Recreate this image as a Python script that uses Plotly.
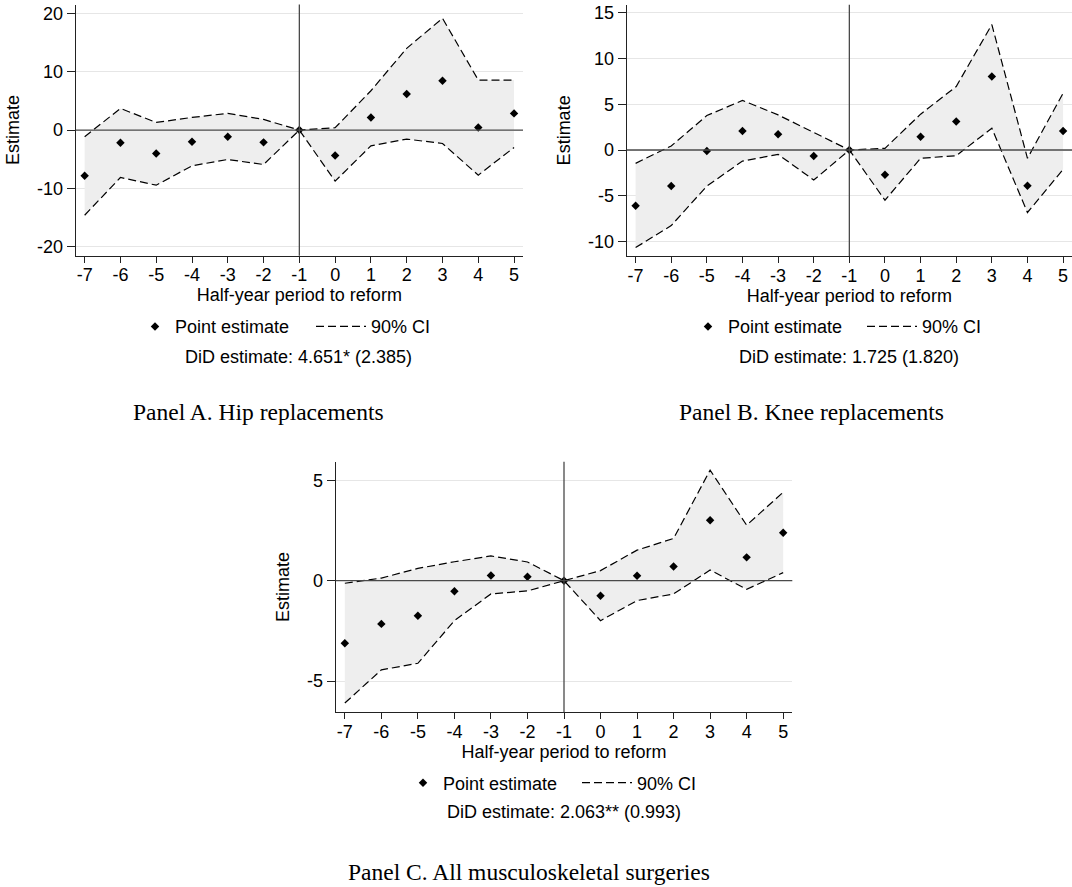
import plotly.graph_objects as go

# ---------------- data ----------------
periods = [-7, -6, -5, -4, -3, -2, -1, 0, 1, 2, 3, 4, 5]
period_labels = ["-7", "-6", "-5", "-4", "-3", "-2", "-1", "0", "1", "2", "3", "4", "5"]
reform_period = -1

hip_est = [-7.83, -2.17, -4.00, -2.00, -1.14, -2.10, 0.0, -4.34, 2.17, 6.17, 8.46, 0.46, 2.86]
hip_hi = [-1.14, 3.71, 1.31, 2.17, 2.86, 1.83, 0.0, 0.40, 6.74, 14.00, 19.14, 8.57, 8.57]
hip_lo = [-14.57, -8.11, -9.43, -6.11, -5.03, -5.89, 0.0, -8.74, -2.69, -1.54, -2.29, -7.71, -2.97]

knee_est = [-6.11, -3.95, -0.11, 2.09, 1.72, -0.66, 0.0, -2.71, 1.46, 3.11, 8.05, -3.92, 2.09]
knee_hi = [-1.46, 0.44, 3.77, 5.42, 3.84, 1.90, 0.0, 0.18, 3.92, 6.95, 13.72, -0.91, 6.22]
knee_lo = [-10.68, -8.27, -3.95, -1.21, -0.48, -3.29, 0.0, -5.49, -0.91, -0.62, 2.38, -6.84, -2.12]

msk_est = [-3.11, -2.15, -1.75, -0.53, 0.26, 0.20, 0.0, -0.75, 0.25, 0.70, 3.01, 1.16, 2.38]
msk_hi = [-0.13, 0.13, 0.61, 0.94, 1.23, 0.93, 0.0, 0.50, 1.52, 2.10, 5.50, 2.76, 4.40]
msk_lo = [-6.09, -4.44, -4.11, -1.99, -0.66, -0.51, 0.0, -1.99, -0.99, -0.66, 0.53, -0.43, 0.40]

hip_yticks = [-20, -10, 0, 10, 20]
hip_ylabels = ["-20", "-10", "0", "10", "20"]
knee_yticks = [-10, -5, 0, 5, 10, 15]
knee_ylabels = ["-10", "-5", "0", "5", "10", "15"]
msk_yticks = [-5, 0, 5]
msk_ylabels = ["-5", "0", "5"]

did_texts = ["DiD estimate: 4.651* (2.385)",
             "DiD estimate: 1.725 (1.820)",
             "DiD estimate: 2.063** (0.993)"]
captions = ["Panel A. Hip replacements",
            "Panel B. Knee replacements",
            "Panel C. All musculoskeletal surgeries"]

# ---------------- style ----------------
SANS = "Liberation Sans, Arial, sans-serif"
SERIF = "Liberation Serif, Times New Roman, serif"
FS = 18
FILL = "#eeeeee"
GRID = "#e6e6e6"
REFLINE = "#4a4a4a"
AXIS = "#222222"
DASH = "8px,4px"

W, H = 1072, 887

# panel geometry (pixels) -> paper
panels = [
    dict(est=hip_est, hi=hip_hi, lo=hip_lo, yt=hip_yticks, yl=hip_ylabels,
         yr=[-21.5, 21.5], px=(75.7, 523.0), py=(4.5, 255.7)),
    dict(est=knee_est, hi=knee_hi, lo=knee_lo, yt=knee_yticks, yl=knee_ylabels,
         yr=[-11.6, 15.9], px=(626.7, 1072.0), py=(4.7, 256.0)),
    dict(est=msk_est, hi=msk_hi, lo=msk_lo, yt=msk_yticks, yl=msk_ylabels,
         yr=[-6.55, 5.92], px=(335.7, 792.3), py=(461.7, 712.3)),
]
# legend anchors: (left edge of point-estimate key, left edge of CI key, vertical centre)
legend_pos = [(135.0, 311.0, 326.7), (688.0, 862.0, 326.7), (403.0, 577.0, 783.0)]
did_pos = [(298.5, 356.7), (849.0, 356.7), (564.0, 812.0)]
cap_pos = [(258.0, 412.0), (811.0, 412.0), (529.0, 872.0)]

fig = go.Figure()

for i, p in enumerate(panels):
    sfx = "" if i == 0 else str(i + 1)
    xa, ya = "x" + sfx, "y" + sfx
    lg_pt = "legend" if i == 0 else "legend" + str(2 * i + 1)
    lg_ci = "legend" + str(2 * i + 2)
    # shaded CI band
    fig.add_trace(go.Scatter(x=periods, y=p["lo"], mode="lines", line=dict(width=0, color=FILL),
                             xaxis=xa, yaxis=ya, showlegend=False, hoverinfo="skip"))
    fig.add_trace(go.Scatter(x=periods, y=p["hi"], mode="lines", line=dict(width=0, color=FILL),
                             fill="tonexty", fillcolor=FILL,
                             xaxis=xa, yaxis=ya, showlegend=False, hoverinfo="skip"))
    # dashed CI bounds
    fig.add_trace(go.Scatter(x=periods, y=p["lo"], mode="lines",
                             line=dict(color="black", width=1.2, dash=DASH),
                             xaxis=xa, yaxis=ya, showlegend=False))
    fig.add_trace(go.Scatter(x=periods, y=p["hi"], mode="lines", name="90% CI",
                             line=dict(color="black", width=1.2, dash=DASH),
                             xaxis=xa, yaxis=ya, legend=lg_ci, showlegend=True))
    # point estimates
    fig.add_trace(go.Scatter(x=periods, y=p["est"], mode="markers", name="Point estimate",
                             marker=dict(symbol="diamond", size=6.5, color="black"),
                             xaxis=xa, yaxis=ya, legend=lg_pt, showlegend=True))

    x0, x1 = p["px"]
    y0, y1 = p["py"]
    xdom = [x0 / W, x1 / W]
    ydom = [1 - y1 / H, 1 - y0 / H]
    fig.layout["xaxis" + sfx] = dict(
        domain=xdom, anchor=ya, range=[-7.25, 5.25],
        tickvals=periods, ticktext=period_labels,
        showgrid=False, zeroline=False, showline=True, linecolor=AXIS, linewidth=1.3,
        ticks="outside", ticklen=6, tickwidth=1.2, tickcolor=AXIS,
        tickfont=dict(family=SANS, size=FS, color="black"),
        ticklabelstandoff=-3,
        title=dict(text="Half-year period to reform", font=dict(family=SANS, size=FS, color="black"),
                   standoff=0),
        automargin=False, fixedrange=True,
    )
    fig.layout["yaxis" + sfx] = dict(
        domain=ydom, anchor=xa, range=p["yr"],
        tickvals=p["yt"], ticktext=p["yl"],
        showgrid=True, gridcolor=GRID, gridwidth=1.2, zeroline=False,
        showline=True, linecolor=AXIS, linewidth=1.3,
        ticks="outside", ticklen=8, tickwidth=1.2, tickcolor=AXIS,
        tickfont=dict(family=SANS, size=FS, color="black"),
        title=dict(text="Estimate", font=dict(family=SANS, size=FS, color="black"), standoff=12),
        automargin=False, fixedrange=True,
    )
    # reference lines
    fig.add_shape(type="line", xref=xa + " domain", yref=ya, x0=0, x1=1, y0=0, y1=0,
                  line=dict(color=REFLINE, width=1.3), layer="above")
    fig.add_shape(type="line", xref=xa, yref=ya + " domain", x0=reform_period, x1=reform_period,
                  y0=0, y1=1, line=dict(color=REFLINE, width=1.3), layer="above")

    lpx, lcx, ly = legend_pos[i]
    fig.layout[lg_pt] = dict(
        orientation="h", x=lpx / W, y=1 - ly / H, xanchor="left", yanchor="middle",
        font=dict(family=SANS, size=FS, color="black"), bgcolor="rgba(0,0,0,0)",
        itemwidth=30, traceorder="normal",
    )
    fig.layout[lg_ci] = dict(
        orientation="h", x=lcx / W, y=1 - ly / H, xanchor="left", yanchor="middle",
        font=dict(family=SANS, size=FS, color="black"), bgcolor="rgba(0,0,0,0)",
        itemwidth=50, traceorder="normal",
    )
    dx, dy = did_pos[i]
    fig.add_annotation(text=did_texts[i], xref="paper", yref="paper", x=dx / W, y=1 - dy / H,
                       xanchor="center", yanchor="middle", showarrow=False,
                       font=dict(family=SANS, size=FS, color="black"))
    cx, cy = cap_pos[i]
    fig.add_annotation(text=captions[i], xref="paper", yref="paper", x=cx / W, y=1 - cy / H,
                       xanchor="center", yanchor="middle", showarrow=False,
                       font=dict(family=SERIF, size=23.5, color="black"))

fig.update_layout(
    width=W, height=H, margin=dict(l=0, r=0, t=0, b=0),
    paper_bgcolor="white", plot_bgcolor="white",
    hovermode=False,
)

fig.write_html("out.html", config={"displayModeBar": False})
